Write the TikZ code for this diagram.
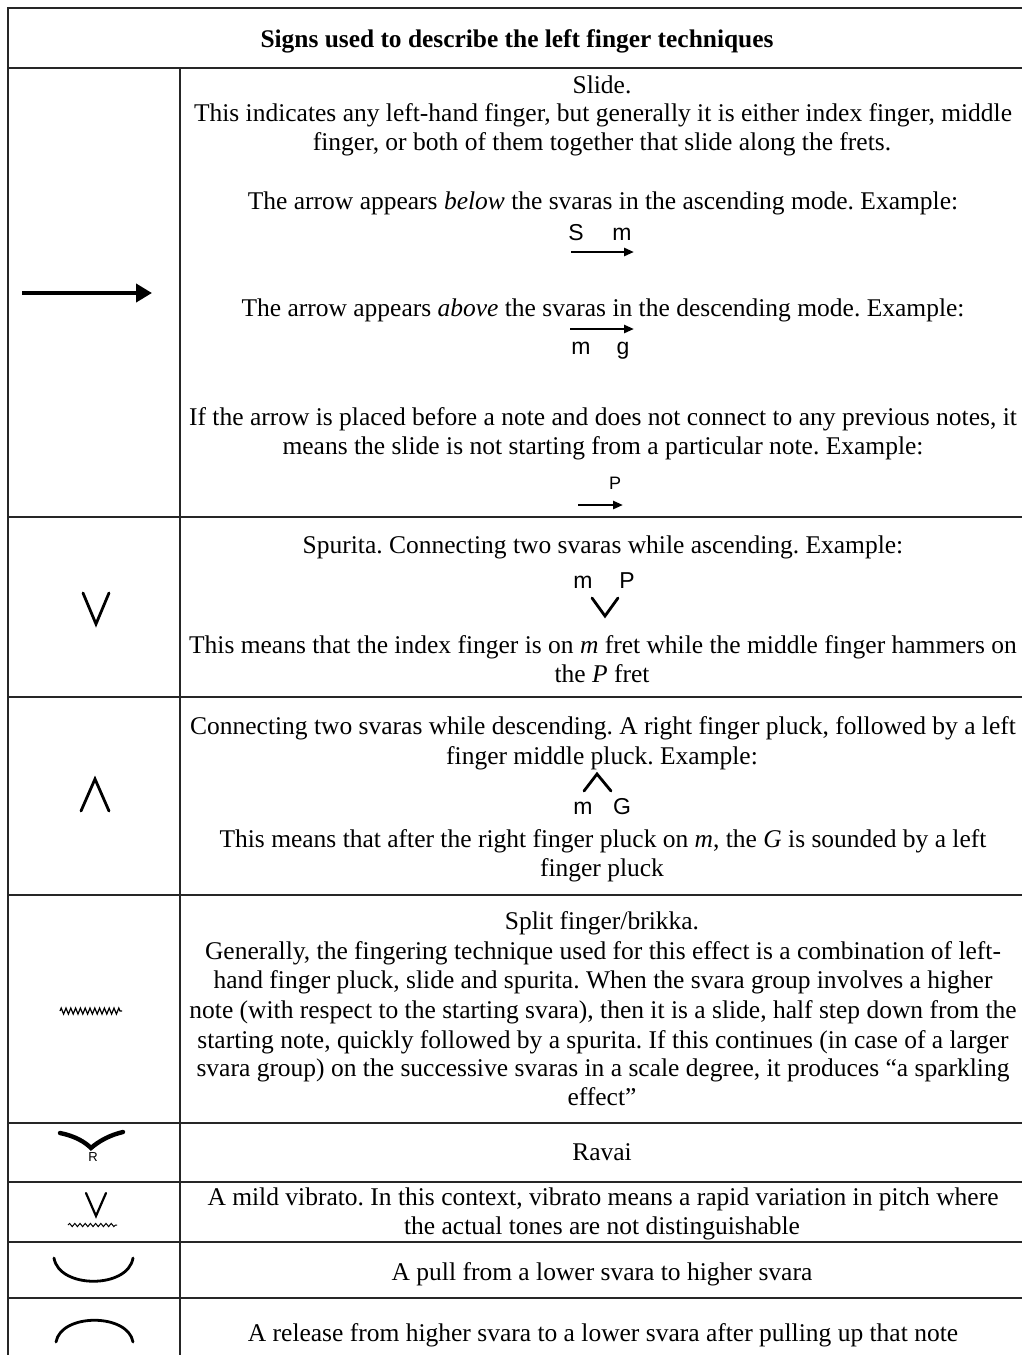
\documentclass[tikz,border=0pt]{standalone}
\usepackage{fontspec}
\setmainfont{Liberation Serif}
\newfontfamily\sansf{Liberation Sans}
\usetikzlibrary{arrows.meta,decorations.pathmorphing}
\frenchspacing
\begin{document}
\begin{tikzpicture}[x=0.5pt,y=-0.5pt,
  grid/.style={line width=0.9pt,black!85},
  ln/.style={anchor=base,inner sep=0pt,font=\fontsize{12.75}{14.5}\selectfont},
  ttl/.style={anchor=base,inner sep=0pt,font=\fontsize{12.7}{14.5}\selectfont\bfseries},
  note/.style={anchor=base,inner sep=0pt,font=\sansf\fontsize{11.5}{12}\selectfont},
  smallnote/.style={anchor=base,inner sep=0pt,font=\sansf\fontsize{9}{10}\selectfont},
  sym/.style={line width=1.4pt,line cap=round,line join=miter},
  bigarrow/.style={line width=2pt,-{Triangle[length=8pt,width=9pt]}},
  smallarrow/.style={line width=1.3pt,-{Triangle[length=5pt,width=4pt]}}]
\useasboundingbox (0,0) rectangle (1022,1355);
% table lines
\draw[grid] (1022,8) -- (8,8) -- (8,1355);
\draw[grid] (8,68) -- (1022,68);
\foreach \yy in {517,697,895,1123,1182,1242,1298}
  \draw[grid] (8,\yy) -- (1022,\yy);
\draw[grid] (180,68) -- (180,1355);
% title
\node[ttl] (title) at (517,47) {Signs used to describe the left finger techniques};
% row 1
\coordinate (a1s) at (22,293); \coordinate (a1e) at (152,293);
\draw[bigarrow] (a1s) -- (a1e);
\node[ln] (r1a) at (602,93) {Slide.};
\node[ln] (r1b) at (603,121) {This indicates any left-hand finger, but generally it is either index finger, middle};
\node[ln] (r1c) at (602,150) {finger, or both of them together that slide along the frets.};
\node[ln] (r1d) at (603,209) {The arrow appears \textit{below} the svaras in the ascending mode. Example:};
\node[note] (S1) at (576,240) {S};
\node[note] (m1) at (622,240) {m};
\coordinate (e1s) at (571,252); \coordinate (e1e) at (634,252);
\draw[smallarrow] (e1s) -- (e1e);
\node[ln] (r1e) at (603,316) {The arrow appears \textit{above} the svaras in the descending mode. Example:};
\coordinate (e2s) at (570,329); \coordinate (e2e) at (634,329);
\draw[smallarrow] (e2s) -- (e2e);
\node[note] (m2) at (581,354) {m};
\node[note] (g2) at (623,354) {g};
\node[ln] (r1f) at (603,425) {If the arrow is placed before a note and does not connect to any previous notes, it};
\node[ln] (r1g) at (603,454) {means the slide is not starting from a particular note. Example:};
\node[smallnote] (P3) at (615,489) {P};
\coordinate (e3s) at (578,505); \coordinate (e3e) at (623,505);
\draw[smallarrow] (e3s) -- (e3e);
% row 2
\draw[sym] (83,593) -- (96,624) -- (109,593);
\node[ln] (r2a) at (603,553) {Spurita. Connecting two svaras while ascending. Example:};
\node[note] (m4) at (583,588) {m};
\node[note] (P4) at (627,588) {P};
\draw[sym] (592,598) -- (605,616) -- (618,598);
\node[ln] (r2b) at (603,653) {This means that the index finger is on \textit{m} fret while the middle finger hammers on};
\node[ln] (r2c) at (602,682) {the \textit{P} fret};
% row 3
\draw[sym] (81,811) -- (95,779) -- (109,811);
\node[ln] (r3a) at (603,734) {Connecting two svaras while descending. A right finger pluck, followed by a left};
\node[ln] (r3b) at (602,764) {finger middle pluck. Example:};
\draw[sym] (584,791) -- (597,774) -- (611,791);
\node[note] (m5) at (583,814) {m};
\node[note] (G5) at (622,814) {G};
\node[ln] (r3c) at (603,847) {This means that after the right finger pluck on \textit{m}, the \textit{G} is sounded by a left};
\node[ln] (r3d) at (602,876) {finger pluck};
% row 4
\draw[line width=0.6pt,decorate,decoration={zigzag,segment length=2.4pt,amplitude=1.5pt}] (60,1011) -- (122,1011);
\node[ln] (r4a) at (602,929) {Split finger/brikka.};
\node[ln] (r4b) at (603,959) {Generally, the fingering technique used for this effect is a combination of left-};
\node[ln] (r4c) at (603,988) {hand finger pluck, slide and spurita. When the svara group involves a higher};
\node[ln] (r4d) at (603,1018) {note (with respect to the starting svara), then it is a slide, half step down from the};
\node[ln] (r4e) at (603,1048) {starting note, quickly followed by a spurita. If this continues (in case of a larger};
\node[ln] (r4f) at (603,1076) {svara group) on the successive svaras in a scale degree, it produces “a sparkling};
\node[ln] (r4g) at (602,1105) {effect”};
% row 5
\draw[line width=2.2pt,line cap=round] (60,1133) .. controls (75,1136) and (85,1142) .. (91,1148) .. controls (99,1141) and (110,1135) .. (123,1132);
\node[inner sep=0pt,font=\sansf\fontsize{6.5}{7}\selectfont] (R) at (93,1157) {R};
\node[ln] (r5a) at (602,1160) {Ravai};
% row 6
\draw[line width=1.1pt,line cap=round] (86,1193) -- (96,1216) -- (106,1193);
\draw[line width=0.5pt,decorate,decoration={snake,segment length=2.6pt,amplitude=0.8pt}] (68,1225) -- (117,1225);
\node[ln] (r6a) at (603,1205) {A mild vibrato. In this context, vibrato means a rapid variation in pitch where};
\node[ln] (r6b) at (602,1234) {the actual tones are not distinguishable};
% row 7
\draw[sym] (54,1258) .. controls (59,1289) and (128,1289) .. (133,1258);
\node[ln] (r7a) at (602,1280) {A pull from a lower svara to higher svara};
% row 8
\draw[sym] (56,1342) .. controls (61,1313) and (128,1313) .. (133,1342);
\node[ln] (r8a) at (603,1341) {A release from higher svara to a lower svara after pulling up that note};
\end{tikzpicture}
\end{document}
